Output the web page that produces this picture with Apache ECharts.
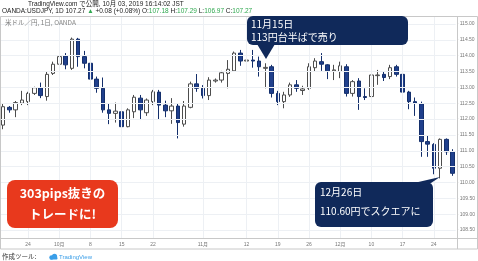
<!DOCTYPE html>
<html><head><meta charset="utf-8">
<script src="https://cdn.jsdelivr.net/npm/echarts@6/dist/echarts.min.js"></script>
<style>html,body{margin:0;padding:0;background:#fff}#c{width:478px;height:261px}</style>
</head><body><div id="c"></div>
<script>
const dates = ['09-18','09-19','09-20','09-21','09-24','09-25','09-26','09-27','09-28',
'10-01','10-02','10-03','10-04','10-05','10-08','10-09','10-10','10-11','10-12','10-15','10-16','10-17','10-18','10-19','10-22','10-23','10-24','10-25','10-26','10-29','10-30','10-31',
'11-01','11-02','11-05','11-06','11-07','11-08','11-09','11-12','11-13','11-14','11-15','11-16','11-19','11-20','11-21','11-22','11-23','11-26','11-27','11-28','11-29','11-30',
'12-03','12-04','12-05','12-06','12-07','12-10','12-11','12-12','12-13','12-14','12-17','12-18','12-19','12-20','12-21','12-24','12-26','12-27','12-28'];
const opens = [111.81,112.37,112.29,112.50,112.55,112.81,112.99,112.71,113.44,
113.73,113.99,113.60,114.52,113.97,113.76,113.26,112.97,112.29,112.18,112.23,111.76,112.23,112.66,112.20,112.55,112.85,112.44,112.26,112.41,111.84,112.37,113.11,
112.97,112.74,113.20,113.23,113.44,113.52,114.08,113.83,113.86,113.83,113.60,113.65,112.81,112.55,112.76,113.08,112.90,112.97,113.62,113.81,113.71,113.52,
113.50,113.65,112.81,113.20,112.71,112.71,113.37,113.41,113.34,113.65,113.41,112.85,112.55,112.48,111.29,111.20,110.45,111.36,110.97];
const highs = [112.50,112.41,112.57,112.89,112.86,113.02,113.15,113.50,113.81,
114.08,114.08,114.57,114.56,114.15,113.86,113.34,113.31,112.50,112.52,112.31,112.34,112.76,112.76,112.65,112.92,112.92,112.58,112.66,112.48,112.57,113.18,113.42,
113.07,113.32,113.28,113.52,113.86,114.13,114.18,114.23,114.18,113.97,113.76,113.71,112.89,112.86,113.15,113.23,113.05,113.76,113.92,114.08,113.73,113.71,
113.81,113.73,113.23,113.29,112.97,113.44,113.55,113.50,113.71,113.71,113.55,112.89,112.68,112.55,111.47,111.24,111.39,111.39,111.05];
const lows = [111.68,112.20,112.06,112.44,112.44,112.76,112.66,112.58,113.39,
113.65,113.57,113.55,113.65,113.60,112.86,112.83,112.20,111.84,111.89,111.66,111.74,112.03,111.97,112.10,112.44,111.99,112.06,111.85,111.39,111.76,112.34,112.86,
112.65,112.60,113.15,113.15,112.97,113.50,113.68,113.68,113.62,113.34,112.97,112.68,112.44,112.34,112.70,112.86,112.76,112.92,113.50,113.52,113.26,113.23,
113.29,112.71,112.71,112.29,112.60,112.29,113.08,113.20,113.26,113.34,112.78,112.31,112.10,110.81,110.81,110.26,110.13,110.87,110.21];
const closes = [112.39,112.29,112.52,112.60,112.81,112.99,112.74,113.41,113.73,
113.97,113.71,114.52,113.97,113.76,113.26,112.97,112.29,112.18,112.25,111.76,112.29,112.69,112.29,112.60,112.86,112.44,112.26,112.41,111.89,112.41,113.11,112.97,
112.74,113.23,113.23,113.46,113.57,114.08,113.83,113.86,113.83,113.65,113.63,112.81,112.55,112.76,113.08,112.97,112.95,113.65,113.83,113.73,113.52,113.55,
113.68,112.81,113.18,112.71,112.68,113.39,113.39,113.31,113.62,113.41,112.85,112.55,112.50,111.29,111.21,110.45,111.36,110.97,110.29];
const tickDates = ['09-24','10-01','10-08','10-15','10-22','11-01','11-12','11-19','11-26','12-03','12-10','12-17','12-24'];
const tickLabels = ['24','10月','8','15','22','11月','12','19','26','12月','10','17','24'];
const priceTicks = [108.5,109,109.5,110,110.5,111,111.5,112,112.5,113,113.5,114,114.5,115];

const ohlc = dates.map((d,i)=>[opens[i], closes[i], lows[i], highs[i]]);
const JP = "'Noto Sans CJK JP', sans-serif";
const LAT = "'Liberation Sans', 'Noto Sans CJK JP', sans-serif";
const NAVY = '#10295a';
const FRAME = '#c8c8c8';

const chart = echarts.init(document.getElementById('c'), null, {renderer:'canvas'});
chart.setOption({
  animation:false,
  backgroundColor:'#ffffff',
  grid:{left:0, right:21, top:16, bottom:23, containLabel:false},
  xAxis:{type:'category', data:dates, boundaryGap:true,
    axisLine:{show:false}, axisTick:{show:false}, splitLine:{show:false},
    axisLabel:{interval:(i,v)=>tickDates.includes(v), formatter:v=>{const k=tickDates.indexOf(v);return k>=0?tickLabels[k]:'';},
      fontSize:5, color:'#777', margin:4, fontFamily:LAT, hideOverlap:false}},
  yAxis:{type:'value', position:'right', min:108.25, max:115.25, interval:0.25,
    axisLine:{show:false}, axisTick:{show:false}, splitLine:{show:false},
    axisLabel:{formatter:v=>priceTicks.some(t=>Math.abs(t-v)<1e-6)?'- '+v.toFixed(2):'', fontSize:5, color:'#777', margin:1, fontFamily:LAT}},
  series:[
    {type:'line', data:[], z:1, silent:true,
      markLine:{silent:true, symbol:['none','none'], label:{show:false}, animation:false,
        lineStyle:{color:'#edf0f4', width:1, type:'solid'},
        emphasis:{disabled:true},
        data:[...priceTicks.map(v=>({yAxis:v})), ...tickDates.map(d=>({xAxis:d}))]}},
    {type:'candlestick', z:3, barWidth:4, data:ohlc,
      itemStyle:{color:'#ffffff', color0:'#1f3f8c', borderColor:'#4d4d4d', borderColor0:'#142f6b', borderWidth:1}}
  ],
  graphic:[
    {type:'rect', silent:true, z:50, shape:{x:0.5,y:16.5,width:477,height:232.5}, style:{fill:null, stroke:FRAME, lineWidth:1}},
    {type:'line', silent:true, z:50, shape:{x1:457.5,y1:16,x2:457.5,y2:249}, style:{stroke:FRAME, lineWidth:1}},
    {type:'line', silent:true, z:50, shape:{x1:0,y1:238.5,x2:478,y2:238.5}, style:{stroke:FRAME, lineWidth:1}},
    {type:'text', z:60, style:{x:28, y:4.5, text:'TradingView.com で公開, 10月 03, 2019 16:14:02 JST', font:'6.5px '+LAT, fill:'#222', verticalAlign:'middle'}},
    {type:'text', z:60, style:{x:2, y:11, verticalAlign:'middle', font:'6.5px '+LAT, fill:'#222',
      text:'OANDA:USDJPY, 1D 107.27 {g|▲} +0.08 (+0.08%) O:{g|107.18} H:{g|107.29} L:{g|106.97} C:{g|107.27}',
      rich:{g:{fill:'#2fa84f', font:'6.5px '+LAT}}}},
    {type:'text', z:60, style:{x:5, y:23, text:'米ドル／円, 1日, OANDA', font:'6.5px '+JP, fill:'#808080', verticalAlign:'middle'}},
    {type:'text', z:60, style:{x:2, y:257, text:'作成ツール:', font:'6.5px '+JP, fill:'#333', verticalAlign:'middle'}},
    {type:'circle', z:60, shape:{cx:51.5,cy:257.5,r:2.2}, style:{fill:'#3a9ee8'}},
    {type:'circle', z:60, shape:{cx:54.5,cy:256.3,r:2.6}, style:{fill:'#3a9ee8'}},
    {type:'rect', z:60, shape:{x:50,y:257,width:7.5,height:2.6,r:1}, style:{fill:'#3a9ee8'}},
    {type:'text', z:60, style:{x:59, y:257, text:'TradingView', font:'6px '+LAT, fill:'#3a9ee8', verticalAlign:'middle'}},
    // annotation 1
    {type:'rect', z:70, shape:{x:247,y:16,width:161,height:29,r:6}, style:{fill:NAVY}},
    {type:'polygon', z:70, shape:{points:[[257,44],[275,44],[266,59]]}, style:{fill:NAVY}},
    {type:'text', z:71, style:{x:251, y:24, text:'11月15日', font:'10px '+JP, fill:'#fff', verticalAlign:'middle'}},
    {type:'text', z:71, style:{x:251, y:37, text:'113円台半ばで売り', font:'10px '+JP, fill:'#fff', verticalAlign:'middle'}},
    // annotation 2
    {type:'rect', z:70, shape:{x:315,y:182,width:118,height:45,r:6}, style:{fill:NAVY}},
    {type:'polygon', z:70, shape:{points:[[414,183],[431,183],[440,177]]}, style:{fill:NAVY}},
    {type:'text', z:71, style:{x:320, y:192, text:'12月26日', font:'10px '+JP, fill:'#fff', verticalAlign:'middle'}},
    {type:'text', z:71, style:{x:320, y:211, text:'110.60円でスクエアに', font:'10px '+JP, fill:'#fff', verticalAlign:'middle'}},
    // red box
    {type:'rect', z:70, shape:{x:7,y:180,width:111,height:48,r:8}, style:{fill:'#e8391d'}},
    {type:'text', z:71, style:{x:62.5, y:193, text:'303pips抜きの', font:'bold 12.5px '+JP, fill:'#fff', verticalAlign:'middle', align:'center'}},
    {type:'text', z:71, style:{x:62.5, y:214, text:'トレードに!', font:'bold 12.5px '+JP, fill:'#fff', verticalAlign:'middle', align:'center'}}
  ]
});
</script></body></html>
